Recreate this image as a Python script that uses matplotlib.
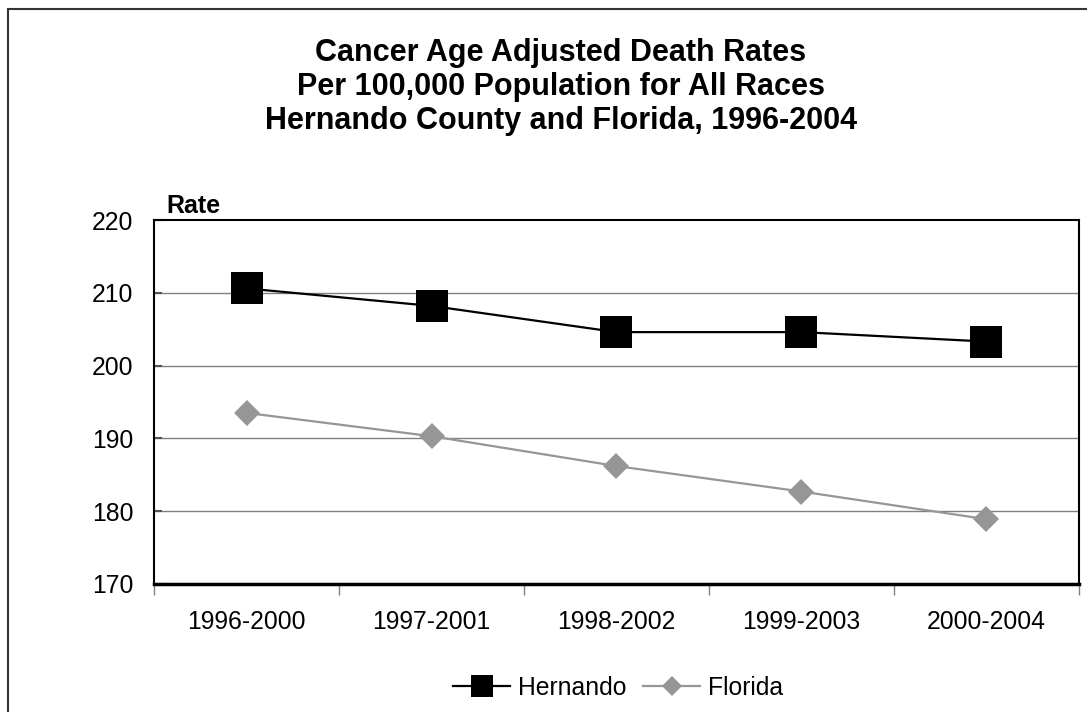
import matplotlib.pyplot as plt
from matplotlib.patches import Rectangle
import numpy as np

plt.rcParams['font.family'] = ['Liberation Sans', 'DejaVu Sans']

periods = ['1996-2000', '1997-2001', '1998-2002', '1999-2003', '2000-2004']
hernando = [210.6, 208.2, 204.6, 204.6, 203.3]
florida = [193.5, 190.3, 186.2, 182.7, 178.9]
yticks = [170, 180, 190, 200, 210, 220]

fig = plt.figure(figsize=(10.87, 7.12), dpi=100)
ax = fig.add_axes([0.1417, 0.1798, 0.8509, 0.5112])

# outer chart frame (runs off right/bottom edge)
fig.patches.append(Rectangle((8 / 1087, -0.1), 1.2, 0.1 + 1 - 9 / 712,
                             transform=fig.transFigure, fill=False,
                             edgecolor='#333333', lw=1.5))

x = np.arange(len(periods))
ax.plot(x, hernando, '-s', color='black', lw=1.6, ms=23, mew=0,
        label='Hernando', zorder=3)
ax.plot(x, florida, '-D', color='#969696', lw=1.6, ms=13.5, mew=0,
        label='Florida', zorder=3)

ax.set_xlim(-0.5, len(periods) - 0.5)
ax.set_ylim(170, 220)
ax.set_yticks(yticks)
ax.set_yticklabels([str(v) for v in yticks])
for v in yticks[1:-1]:
    ax.axhline(v, color='#808080', lw=1.0, zorder=1)

ax.set_xticks(x)
ax.set_xticklabels(periods)
ax.set_xticks(np.arange(len(periods) + 1) - 0.5, minor=True)
ax.tick_params(axis='x', which='major', length=0, pad=19, labelsize=17.8)
ax.tick_params(axis='x', which='minor', length=8, color='#808080', width=1)
ax.tick_params(axis='y', direction='in', length=6, color='#555555',
               width=1.5, pad=15, labelsize=17.8)

for s in ['top', 'right', 'left']:
    ax.spines[s].set_linewidth(1.5)
    ax.spines[s].set_color('black')
ax.spines['bottom'].set_linewidth(2.5)

fig.text(561 / 1087, 1 - 87 / 712,
         'Cancer Age Adjusted Death Rates\nPer 100,000 Population for All Races\n'
         'Hernando County and Florida, 1996-2004',
         ha='center', va='center', fontsize=22, fontweight='bold', linespacing=1.17)
fig.text(166 / 1087, 1 - 206 / 712, 'Rate', ha='left', va='center',
         fontsize=18, fontweight='bold')

fig.legend(loc='center', bbox_to_anchor=(618 / 1087, 1 - 688 / 712), ncol=2,
           frameon=False, fontsize=17.8, handlelength=2.3, markerscale=0.72,
           columnspacing=0.7, handletextpad=0.3)

fig.savefig('out.png', dpi=100)
